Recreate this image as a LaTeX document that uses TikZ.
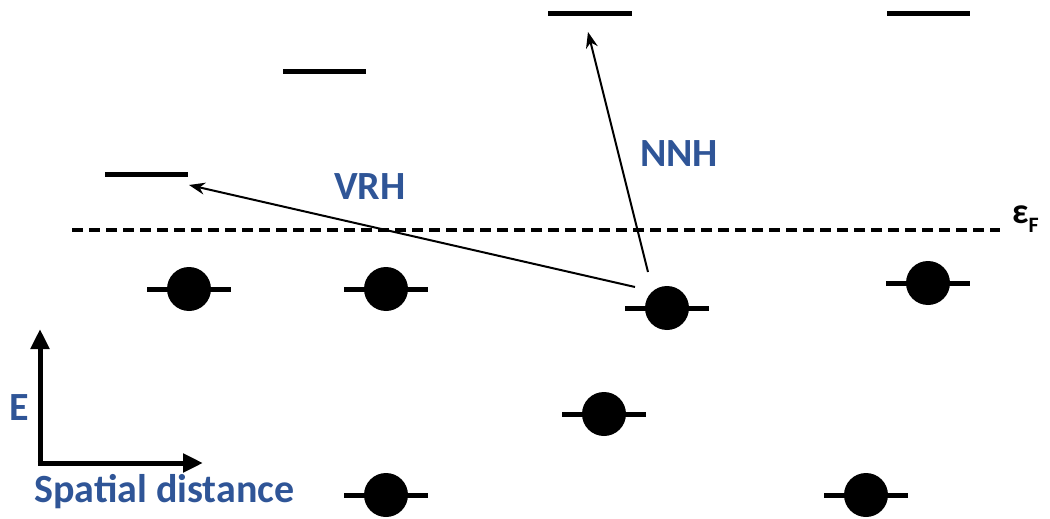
\documentclass[tikz,border=0pt]{standalone}
\usepackage{fontspec}
\setmainfont{Carlito}
\usetikzlibrary{arrows.meta}
\definecolor{lblue}{RGB}{47,85,151}
\begin{document}
\begin{tikzpicture}[x=1pt,y=-1pt,
  level/.style={line width=5pt},
  lbl/.style={text=lblue,font=\fontsize{40}{42}\selectfont\bfseries,inner sep=0pt},
  hop/.style={line width=2pt,-{Stealth[length=16pt,width=12pt]}},
  axis/.style={line width=5pt,-{Triangle[length=20pt,width=18pt]}}]
\useasboundingbox (0,0) rectangle (1050,519);
% Fermi level
\coordinate (fl) at (72,230);
\coordinate (fr) at (1000,230);
\draw[line width=3.8pt,dash pattern=on 11pt off 6pt] (fl) -- (fr);
\node[inner sep=0pt,anchor=west] (ef) at (1012,219) {\fontsize{36}{38}\selectfont\bfseries ε\raisebox{-9pt}{\fontsize{22}{24}\selectfont F}};
% empty levels
\draw[level] (105,174) coordinate (e1) -- (188,174);
\draw[level] (283,72) coordinate (e2) -- (366,72);
\draw[level] (548,14) coordinate (e3) -- (632,14);
\draw[level] (887,14) coordinate (e4) -- (970,14);
% filled sites
\foreach \n/\x/\y in {s1/189/289, s2/386/289, s3/667/308, s4/928/283, s5/604/414, s6/386/495, s7/866/495}{
  \draw[level] (\x-42,\y) -- (\x+42,\y);
  \node[circle,fill=black,minimum size=44pt,inner sep=0pt] (\n) at (\x,\y) {};
}
% hops
\coordinate (vs) at (635,287);
\coordinate (vt) at (189,185);
\coordinate (ns) at (648,272);
\coordinate (nt) at (588,32);
\draw[hop] (vs) -- (vt);
\draw[hop] (ns) -- (nt);
\node[lbl] (vrh) at (370,187) {VRH};
\node[lbl] (nnh) at (679,154) {NNH};
% axes
\coordinate (o) at (40,463);
\coordinate (ey) at (40,329);
\coordinate (ex) at (203,463);
\draw[axis] ([yshift=2.5pt]o) -- (ey);
\draw[axis] ([xshift=-2.5pt]o) -- (ex);
\node[lbl] (E) at (19,408) {E};
\node[lbl,anchor=west] (sd) at (34,492) {Spatial distance};
\end{tikzpicture}
\end{document}
